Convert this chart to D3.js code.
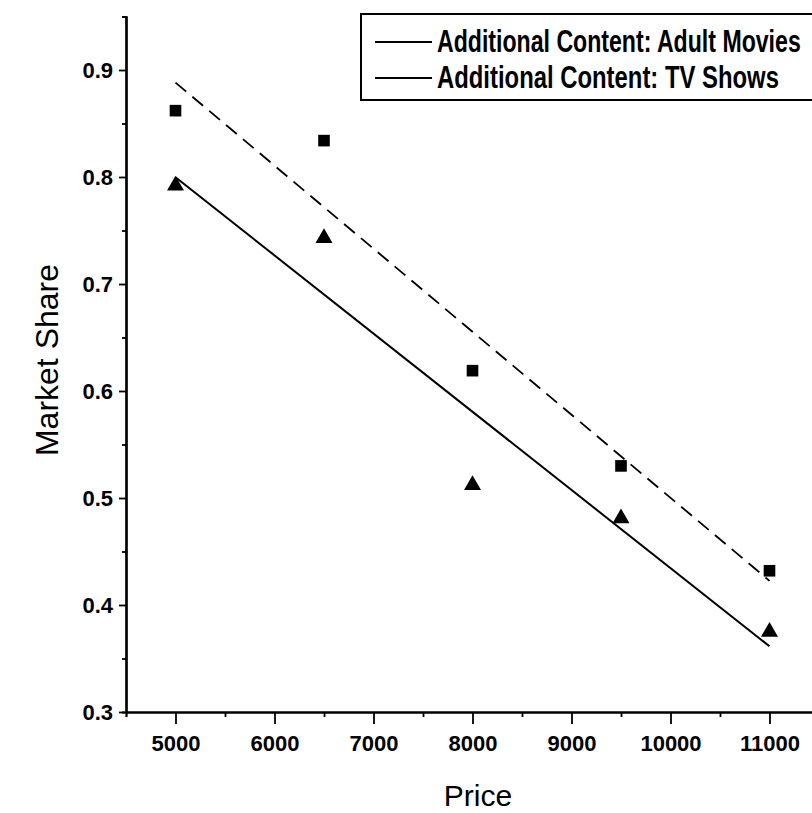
<!DOCTYPE html>
<html>
<head>
<meta charset="utf-8">
<script src="https://cdn.jsdelivr.net/npm/d3@7"></script>
<style>
  body { margin: 0; background: #fff; }
  svg { display: block; }
  text { font-family: "Liberation Sans Narrow", "Arial Narrow", "Liberation Sans", Arial, sans-serif; fill: #000; }
</style>
</head>
<body>
<div id="chart"></div>
<script>
// price points (x) and market share for each content type
var prices = [5000, 6500, 8000, 9500, 11000];
var adultMovies = [0.862, 0.834, 0.619, 0.530, 0.432];
var tvShows = [0.792, 0.743, 0.512, 0.481, 0.375];

var xTicks = [5000, 6000, 7000, 8000, 9000, 10000, 11000];
var yTicks = [0.3, 0.4, 0.5, 0.6, 0.7, 0.8, 0.9];
var legendLabels = ["Additional Content: Adult Movies", "Additional Content: TV Shows"];

var W = 812, H = 813;
var svg = d3.select("#chart").append("svg").attr("width", W).attr("height", H);

var x = d3.scaleLinear().domain([4500, 11500]).range([126, 819]);
var y = d3.scaleLinear().domain([0.3, 0.95]).range([712, 16.5]);

// least squares fit line, drawn between first and last price
function fit(xs, ys) {
	var mx = d3.mean(xs), my = d3.mean(ys);
	var num = 0, den = 0;
	for (var i = 0; i < xs.length; i++) {
		num += (xs[i] - mx) * (ys[i] - my);
		den += (xs[i] - mx) * (xs[i] - mx);
	}
	var b = num / den, a = my - b * mx;
	var x0 = d3.min(xs), x1 = d3.max(xs);
	return [[x0, a + b * x0], [x1, a + b * x1]];
}

var line = d3.line().x(function(d) { return x(d[0]); }).y(function(d) { return y(d[1]); });

// axes
var minorY = d3.range(0.35, 0.95, 0.1);
var minorX = d3.range(5500, 11500, 1000);

var yAxis = svg.append("g").attr("transform", "translate(" + x(4500) + ",0)");
yAxis.call(d3.axisLeft(y).tickValues(yTicks).tickSize(7).tickSizeOuter(0).tickFormat(d3.format(".1f")));
yAxis.append("g").call(d3.axisLeft(y).tickValues(minorY).tickSize(4).tickFormat(""));
yAxis.selectAll("path.domain").attr("stroke-width", 2.2);
yAxis.selectAll("line").attr("stroke-width", 1.8);
yAxis.selectAll(".tick text").attr("font-size", 22).attr("font-weight", "bold").attr("dx", -3);

var xAxis = svg.append("g").attr("transform", "translate(0," + y(0.3) + ")");
xAxis.call(d3.axisBottom(x).tickValues(xTicks).tickSize(12).tickSizeOuter(0).tickFormat(d3.format("d")));
xAxis.append("g").call(d3.axisBottom(x).tickValues(minorX).tickSize(5).tickFormat(""));
xAxis.selectAll("path.domain").attr("stroke-width", 2.2);
xAxis.selectAll("line").attr("stroke-width", 1.8);
xAxis.selectAll(".tick text").attr("font-size", 22).attr("font-weight", "bold").attr("dy", "1.1em");

// axis titles
svg.append("text").attr("x", 478).attr("y", 806).attr("text-anchor", "middle")
	.attr("font-size", 30).text("Price");
svg.append("text").attr("transform", "translate(58,360) rotate(-90)").attr("text-anchor", "middle")
	.attr("font-family", "Liberation Sans, Arial, sans-serif").attr("font-size", 32).text("Market Share");

// fit lines
svg.append("path").datum(fit(prices, adultMovies)).attr("d", line)
	.attr("fill", "none").attr("stroke", "#000").attr("stroke-width", 1.8).attr("stroke-dasharray", "14,8");
svg.append("path").datum(fit(prices, tvShows)).attr("d", line)
	.attr("fill", "none").attr("stroke", "#000").attr("stroke-width", 2);

// markers
svg.selectAll(".sq").data(prices).enter().append("path").attr("class", "sq")
	.attr("d", d3.symbol().type(d3.symbolSquare).size(135))
	.attr("transform", function(d, i) { return "translate(" + x(d) + "," + y(adultMovies[i]) + ")"; });
svg.selectAll(".tri").data(prices).enter().append("path").attr("class", "tri")
	.attr("d", d3.symbol().type(d3.symbolTriangle).size(125))
	.attr("transform", function(d, i) { return "translate(" + x(d) + "," + y(tvShows[i]) + ")"; });

// legend
var lg = svg.append("g");
lg.append("rect").attr("x", 361).attr("y", 14).attr("width", 470).attr("height", 86)
	.attr("fill", "#fff").attr("stroke", "#000").attr("stroke-width", 2);
var legendWidths = [364, 342];
legendLabels.forEach(function(t, i) {
	var ly = 42 + i * 36;
	lg.append("line").attr("x1", 375).attr("x2", 432).attr("y1", ly).attr("y2", ly)
		.attr("stroke", "#000").attr("stroke-width", 1.8);
	var g = lg.append("g");
	var txt = g.append("text").attr("x", 0).attr("y", 0).attr("font-size", 31).attr("font-weight", "bold").text(t);
	// squeeze the text sideways so it fits like the condensed original
	var sx = legendWidths[i] / txt.node().getComputedTextLength();
	g.attr("transform", "translate(437," + (ly + 10) + ") scale(" + sx + ",1)");
});
</script>
</body>
</html>
